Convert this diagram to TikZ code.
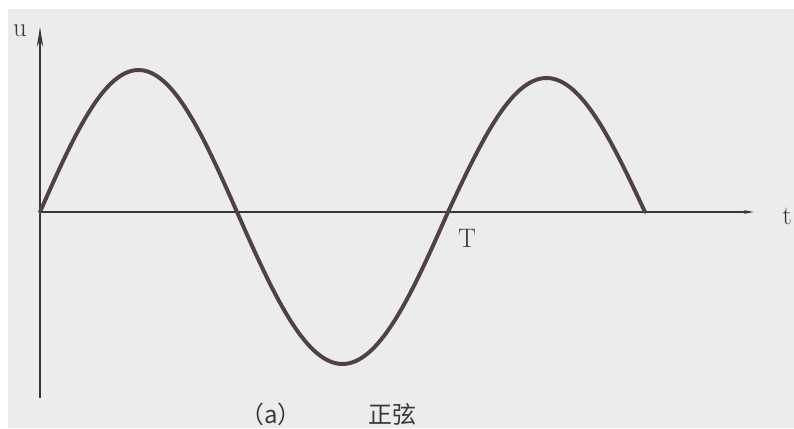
\documentclass[tikz,border=0pt]{standalone}
\usepackage{fontspec}
\newfontfamily\cjk{Noto Sans CJK SC}
\usepackage{tikz}
\usetikzlibrary{arrows.meta, positioning}
\usepackage{xcolor}
\definecolor{papergray}{RGB}{236,236,238}
\definecolor{inkdark}{RGB}{58,54,58}
\definecolor{waveink}{RGB}{80,64,72}

\begin{document}
\begin{tikzpicture}[x=0.025cm, y=-0.025cm, every node/.style={font=\fontsize{19}{20}\selectfont, text=inkdark}]
  \useasboundingbox (0,0) rectangle (794,428);
  \fill[white] (0,0) rectangle (794,428);
  \fill[papergray] (8,9) rectangle (794,428);
  % axes
  \coordinate (O) at (40,212);
  \coordinate (ubot) at (40,398);
  \coordinate (utop) at (40,27);
  \coordinate (tend) at (754,212);
  \draw[inkdark, line width=1.3pt, -{Stealth[length=14pt, width=4.5pt]}] (ubot) -- (utop);
  \draw[inkdark, line width=1.1pt, -{Stealth[length=7pt, width=2.5pt]}] (O) -- (tend);
  \node (ulabel) at (20,31) {u};
  \node (tlabel) at (787,216) {t};
  \node (Tlabel) at (467,238) {T};
  % wave, one half period at a time
  \draw[waveink, line width=2.8pt, line cap=round, line join=round]
    plot[domain=0:197, samples=70, smooth] ({40+\x}, {212-142*sin(\x/197*180)})
    -- plot[domain=0:211, samples=70, smooth] ({237+\x}, {212+152*sin(\x/211*180)})
    -- plot[domain=0:197, samples=70, smooth] ({448+\x}, {212-134*sin(\x/197*180)});
  \node[inner sep=0pt] (capA) at (271,414) {\cjk\fontsize{17}{18}\selectfont （a）};
  \node[inner sep=0pt] (capText) at (392,414) {\cjk\fontsize{17}{18}\selectfont 正弦};
\end{tikzpicture}
\end{document}
